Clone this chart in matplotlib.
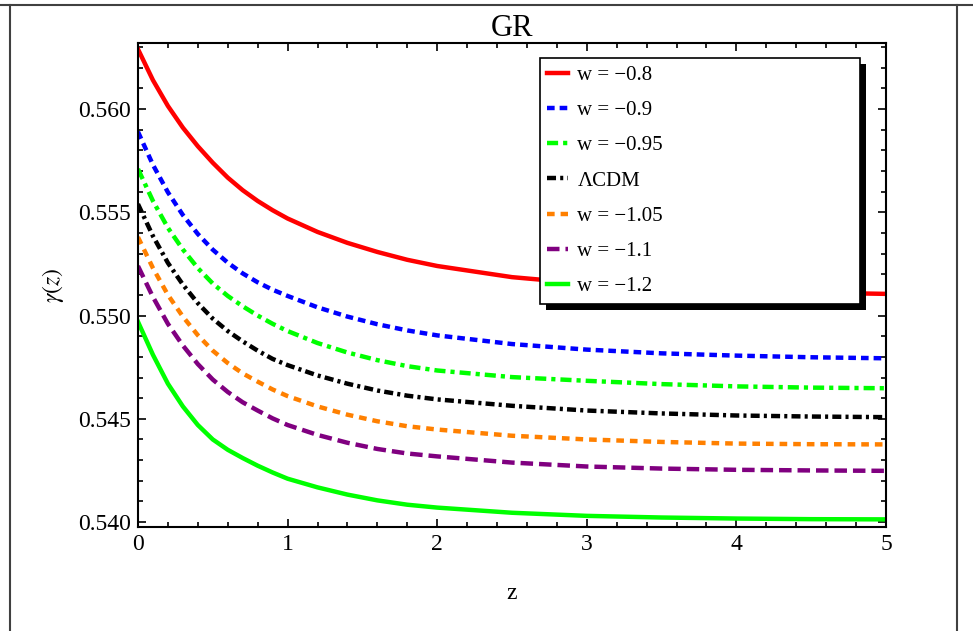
import matplotlib
matplotlib.use("Agg")
import matplotlib.pyplot as plt
from matplotlib.lines import Line2D
from matplotlib.patches import Rectangle
from matplotlib.ticker import MultipleLocator, FormatStrFormatter

plt.rcParams['font.family'] = ['Liberation Serif', 'DejaVu Serif']
plt.rcParams['mathtext.fontset'] = 'stix'
plt.rcParams['lines.scale_dashes'] = False

# redshift grid
z = [0, 0.1, 0.2, 0.3, 0.4, 0.5, 0.6, 0.7, 0.8, 0.9, 1.0,
     1.2, 1.4, 1.6, 1.8, 2.0, 2.5, 3.0, 3.5, 4.0, 4.5, 5.0]

# growth index gamma(z) for each equation of state
g_w080 = [0.5629, 0.5614, 0.56015, 0.5591, 0.5582, 0.5574, 0.55668, 0.55607, 0.55555, 0.5551, 0.5547,
          0.55405, 0.55352, 0.55308, 0.5527, 0.5524, 0.55186, 0.55154, 0.55133, 0.5512, 0.55111, 0.55105]
g_w090 = [0.5589, 0.5573, 0.55597, 0.55487, 0.55395, 0.55319, 0.55256, 0.55204, 0.55161, 0.55125, 0.55095,
          0.5504, 0.54995, 0.54958, 0.54928, 0.54904, 0.54862, 0.54835, 0.54817, 0.54806, 0.54798, 0.54793]
g_w095 = [0.5571, 0.55555, 0.55425, 0.5532, 0.5523, 0.55155, 0.55095, 0.55045, 0.55, 0.5496, 0.54925,
          0.54867, 0.54821, 0.54784, 0.54755, 0.54734, 0.54702, 0.54684, 0.54668, 0.54657, 0.54651, 0.54648]
g_lcdm = [0.5554, 0.55385, 0.55255, 0.5515, 0.5506, 0.54985, 0.54925, 0.54875, 0.5483, 0.5479, 0.5476,
          0.5471, 0.5467, 0.54637, 0.54612, 0.54594, 0.54563, 0.5454, 0.54526, 0.54516, 0.54511, 0.54508]
g_w105 = [0.5538, 0.5523, 0.551, 0.54995, 0.54905, 0.5483, 0.5477, 0.5472, 0.5468, 0.54642, 0.5461,
          0.5456, 0.5452, 0.54488, 0.54464, 0.54448, 0.54418, 0.544, 0.54388, 0.5438, 0.54377, 0.54376]
g_w110 = [0.5524, 0.5509, 0.5496, 0.54855, 0.54765, 0.5469, 0.5463, 0.5458, 0.5454, 0.54502, 0.5447,
          0.54422, 0.54384, 0.54354, 0.54332, 0.54318, 0.54288, 0.54269, 0.54259, 0.54253, 0.5425, 0.54248]
g_w120 = [0.5497, 0.5481, 0.5467, 0.5456, 0.5447, 0.544, 0.5435, 0.5431, 0.54273, 0.5424, 0.5421,
          0.54168, 0.54133, 0.54105, 0.54084, 0.5407, 0.54045, 0.5403, 0.54022, 0.54017, 0.54014, 0.54013]

labels = ['w = \u22120.8', 'w = \u22120.9', 'w = \u22120.95', '\u039bCDM',
          'w = \u22121.05', 'w = \u22121.1', 'w = \u22121.2']
series = [g_w080, g_w090, g_w095, g_lcdm, g_w105, g_w110, g_w120]
colors = ['#ff0000', '#0000ff', '#00ff00', '#000000', '#ff8000', '#800080', '#00ff00']
# dash patterns in points (None = solid)
dashes = [None, (5.5, 3.6), (8, 3.6, 3, 3.6), (6.5, 3, 2.2, 3), (5.5, 4.3), (9, 4.3), None]

fig = plt.figure(figsize=(9.73, 6.31), dpi=100)
ax = fig.add_axes([0.1418, 0.1648, 0.7688, 0.7671])

for y, lab, c, d in zip(series, labels, colors, dashes):
    line, = ax.plot(z, y, color=c, lw=3.2, label=lab)
    if d is not None:
        line.set_dashes(d)

ax.set_xlim(0, 5)
ax.set_ylim(0.53976, 0.5632)
ax.xaxis.set_major_locator(MultipleLocator(1))
ax.xaxis.set_minor_locator(MultipleLocator(0.2))
ax.yaxis.set_major_locator(MultipleLocator(0.005))
ax.yaxis.set_minor_locator(MultipleLocator(0.001))
ax.yaxis.set_major_formatter(FormatStrFormatter('%.3f'))
ax.tick_params(which='both', direction='in', top=True, right=True, width=1.2,
               labelsize=17, pad=5)
ax.tick_params(which='major', length=6)
ax.tick_params(which='minor', length=3.5)
for s in ax.spines.values():
    s.set_linewidth(1.5)

ax.set_title('GR', fontsize=22, pad=5)
ax.set_xlabel('z', fontsize=17, labelpad=20)
ax.set_ylabel(r'$\gamma(z)$', fontsize=17, labelpad=9)

leg = ax.legend(loc='upper left', bbox_to_anchor=(0.537, 0.463, 0.428, 0.506),
                mode='expand', fontsize=15, handlelength=1.0, handletextpad=0.45,
                labelspacing=0.75, borderpad=0.36, borderaxespad=0,
                fancybox=False, framealpha=1, edgecolor='black')
leg.get_frame().set_linewidth(1.2)

# solid drop shadow behind the legend box
fig.canvas.draw()
bb = leg.get_frame().get_window_extent()
inv = ax.transAxes.inverted()
(x0, y0), (x1, y1) = inv.transform([(bb.x0 + 6, bb.y0 - 6), (bb.x1 + 6, bb.y1 - 6)])
ax.add_patch(Rectangle((x0, y0), x1 - x0, y1 - y0, transform=ax.transAxes,
                       facecolor='black', edgecolor='none', zorder=4.9, clip_on=False))

# page frame lines
fr = dict(transform=fig.transFigure, color='#404040', lw=1.5)
fig.add_artist(Line2D([0, 1], [1 - 5 / 631] * 2, **fr))
fig.add_artist(Line2D([10 / 973] * 2, [0, 1 - 5 / 631], **fr))
fig.add_artist(Line2D([957 / 973] * 2, [0, 1 - 5 / 631], **fr))

fig.savefig('out.png', dpi=100)
